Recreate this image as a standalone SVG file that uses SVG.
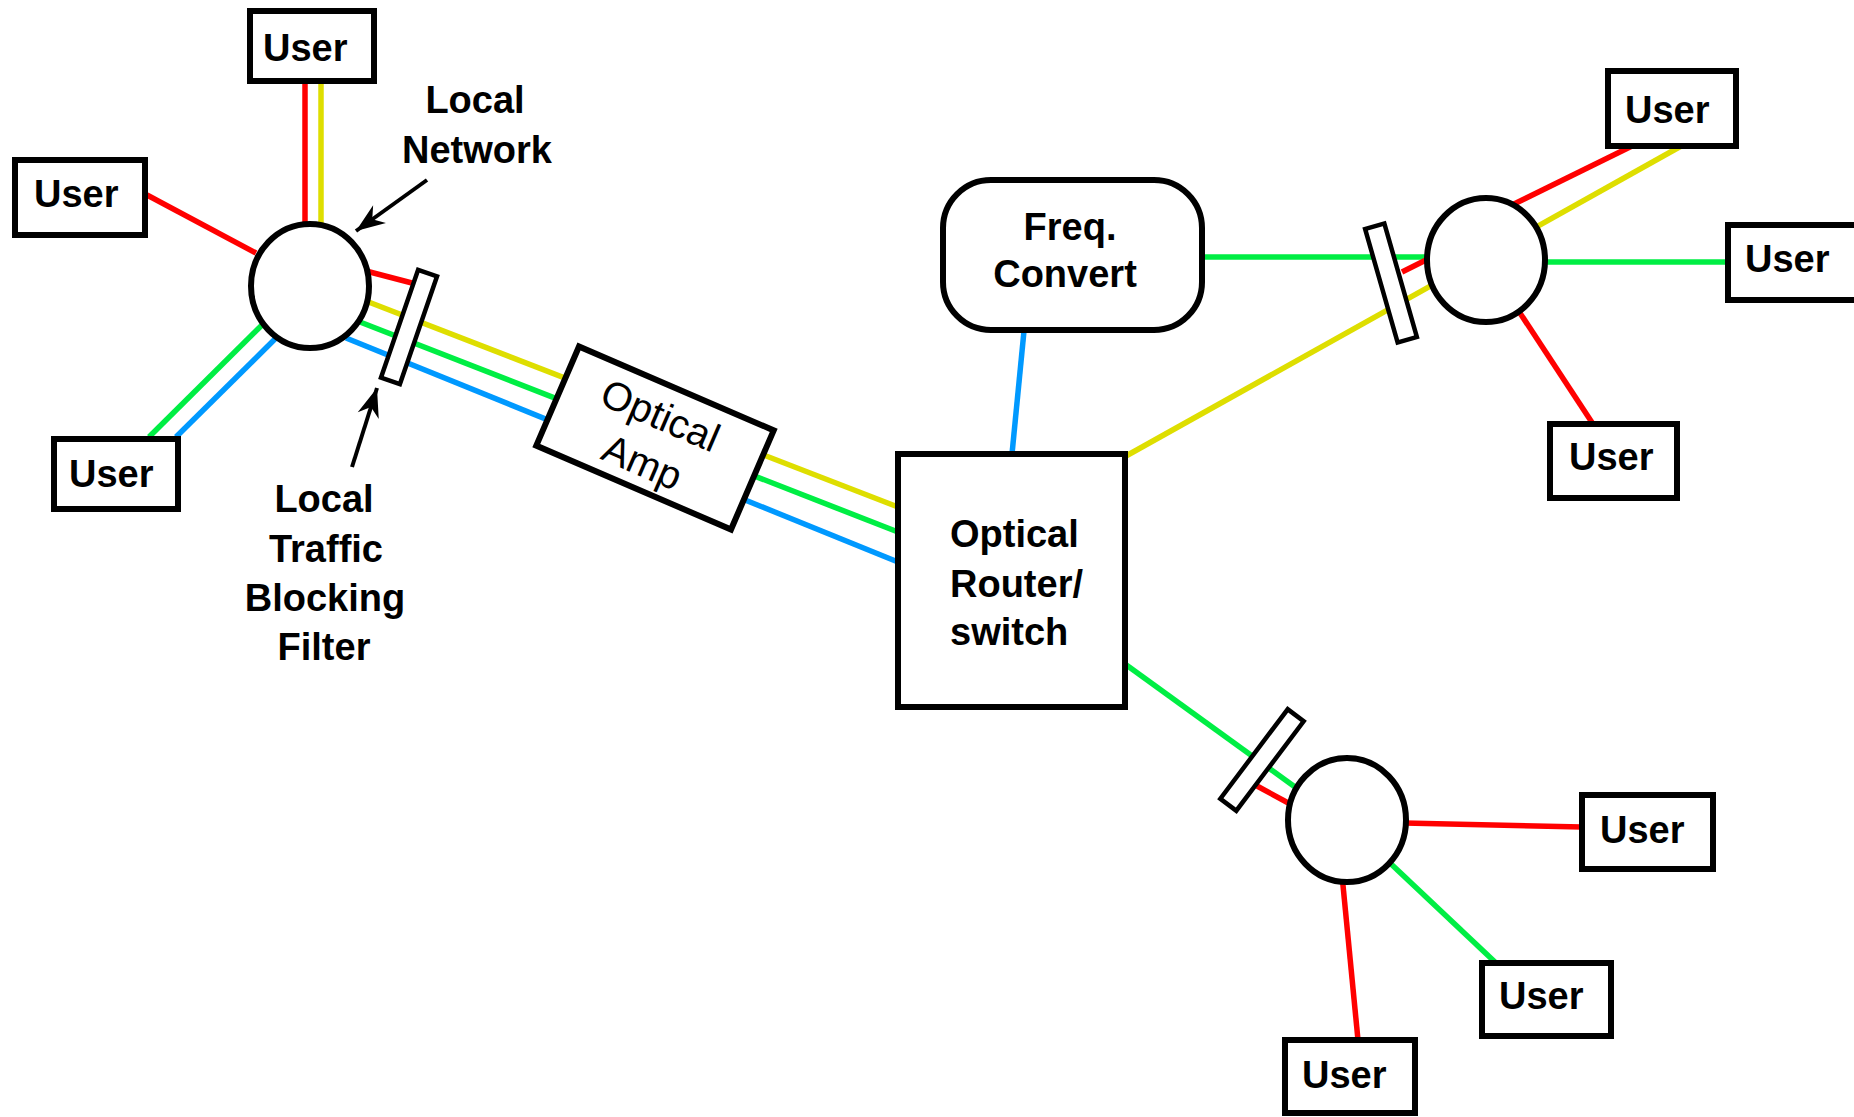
<svg xmlns="http://www.w3.org/2000/svg" width="1854" height="1117" viewBox="0 0 1854 1117">
<defs>
<style>
.box{fill:#fff;stroke:#000;stroke-width:6}
.ring{fill:#fff;stroke:#000;stroke-width:6}
.flt{fill:#fff;stroke:#000;stroke-width:4.5}
.t{font-family:"Liberation Sans",Arial,sans-serif;font-weight:bold;font-size:38px;fill:#000}
.tn{font-family:"Liberation Sans",Arial,sans-serif;font-size:40px;fill:#000}
.c{fill:none;stroke-width:5.5}
.r{stroke:#ff0000}.y{stroke:#dede00}.g{stroke:#00ee44}.b{stroke:#0099ff}
.arr{stroke:#000;stroke-width:4;fill:none}
</style>
<marker id="ah" markerWidth="32" markerHeight="26" refX="0" refY="0" viewBox="-30 -13 32 26" orient="auto" markerUnits="userSpaceOnUse">
<path d="M0,0 L-29,-11 L-20,0 L-29,11 Z" fill="#000"/>
</marker>
</defs>
<rect width="1854" height="1117" fill="#fff"/>
<g id="connectors">
<line class="c r" x1="305" y1="83" x2="305" y2="226"/>
<line class="c y" x1="321" y1="83" x2="321" y2="226"/>
<line class="c r" x1="147" y1="195" x2="256" y2="253"/>
<line class="c g" x1="149" y1="437" x2="262" y2="325"/>
<line class="c b" x1="176" y1="437" x2="279" y2="335"/>
<line class="c r" x1="366" y1="271" x2="412" y2="283"/>
<line class="c y" x1="366" y1="301" x2="898" y2="507"/>
<line class="c g" x1="360" y1="322" x2="898" y2="532"/>
<line class="c b" x1="346" y1="338" x2="898" y2="562"/>
<line class="c b" x1="1024" y1="331" x2="1012" y2="454"/>
<line class="c g" x1="1202" y1="257" x2="1432" y2="257"/>
<line class="c y" x1="1126" y1="456" x2="1683" y2="145"/>
<line class="c r" x1="1512" y1="205" x2="1632" y2="146"/>
<line class="c g" x1="1543" y1="262" x2="1728" y2="262"/>
<line class="c r" x1="1518" y1="310" x2="1593" y2="424"/>
<line class="c r" x1="1402" y1="272" x2="1430" y2="258"/>
<line class="c g" x1="1125" y1="664" x2="1295" y2="787"/>
<line class="c r" x1="1257" y1="786" x2="1292" y2="805"/>
<line class="c r" x1="1404" y1="823" x2="1582" y2="827"/>
<line class="c g" x1="1390" y1="863" x2="1496" y2="963"/>
<line class="c r" x1="1342" y1="875" x2="1358" y2="1040"/>
<line class="arr" x1="427" y1="180" x2="356" y2="231" marker-end="url(#ah)"/>
<line class="arr" x1="352" y1="467" x2="377" y2="388" marker-end="url(#ah)"/>
</g>
<g id="hub-left"><ellipse class="ring" cx="310" cy="286" rx="59" ry="62"/></g>
<g id="hub-right"><ellipse class="ring" cx="1486" cy="260" rx="59" ry="62"/></g>
<g id="hub-bottom"><ellipse class="ring" cx="1347" cy="820" rx="59" ry="62"/></g>
<g id="filter-left"><rect class="flt" x="-10" y="-57" width="20" height="114" transform="translate(409 327) rotate(19)"/></g>
<g id="filter-right"><rect class="flt" x="-10" y="-59" width="20" height="118" transform="translate(1391 283) rotate(-16)"/></g>
<g id="filter-bottom"><rect class="flt" x="-10" y="-56" width="20" height="112" transform="translate(1262 760) rotate(37)"/></g>
<g id="optical-amp" transform="translate(655 438) rotate(23.3)">
<rect class="box" x="-106" y="-54" width="212" height="108"/>
<text class="tn" x="-4" y="-9" text-anchor="middle">Optical</text>
<text class="tn" x="-2" y="41" text-anchor="middle">Amp</text>
</g>
<g id="router">
<rect class="box" x="898" y="454" width="227" height="253"/>
<text class="t" x="950" y="547">Optical</text>
<text class="t" x="950" y="597">Router/</text>
<text class="t" x="950" y="645">switch</text>
</g>
<g id="freq-convert">
<rect class="box" x="943" y="180" width="259" height="150" rx="48" ry="48"/>
<text class="t" x="1070" y="240" text-anchor="middle">Freq.</text>
<text class="t" x="1065" y="287" text-anchor="middle">Convert</text>
</g>
<g id="user-1"><rect class="box" x="250" y="11" width="124" height="70"/><text class="t" x="263" y="61">User</text></g>
<g id="user-2"><rect class="box" x="15" y="160" width="130" height="75"/><text class="t" x="34" y="207">User</text></g>
<g id="user-3"><rect class="box" x="54" y="439" width="124" height="70"/><text class="t" x="69" y="487">User</text></g>
<g id="user-4"><rect class="box" x="1608" y="71" width="128" height="75"/><text class="t" x="1625" y="123">User</text></g>
<g id="user-5"><rect class="box" x="1728" y="225" width="140" height="75"/><text class="t" x="1745" y="272">User</text></g>
<g id="user-6"><rect class="box" x="1550" y="424" width="127" height="74"/><text class="t" x="1569" y="470">User</text></g>
<g id="user-7"><rect class="box" x="1582" y="795" width="131" height="74"/><text class="t" x="1600" y="843">User</text></g>
<g id="user-8"><rect class="box" x="1482" y="963" width="129" height="73"/><text class="t" x="1499" y="1009">User</text></g>
<g id="user-9"><rect class="box" x="1285" y="1040" width="130" height="73"/><text class="t" x="1302" y="1088">User</text></g>
<g id="labels">
<text class="t" x="475" y="113" text-anchor="middle">Local</text>
<text class="t" x="477" y="163" text-anchor="middle">Network</text>
<text class="t" x="324" y="512" text-anchor="middle">Local</text>
<text class="t" x="326" y="562" text-anchor="middle">Traffic</text>
<text class="t" x="325" y="611" text-anchor="middle">Blocking</text>
<text class="t" x="324" y="660" text-anchor="middle">Filter</text>
</g>
</svg>
